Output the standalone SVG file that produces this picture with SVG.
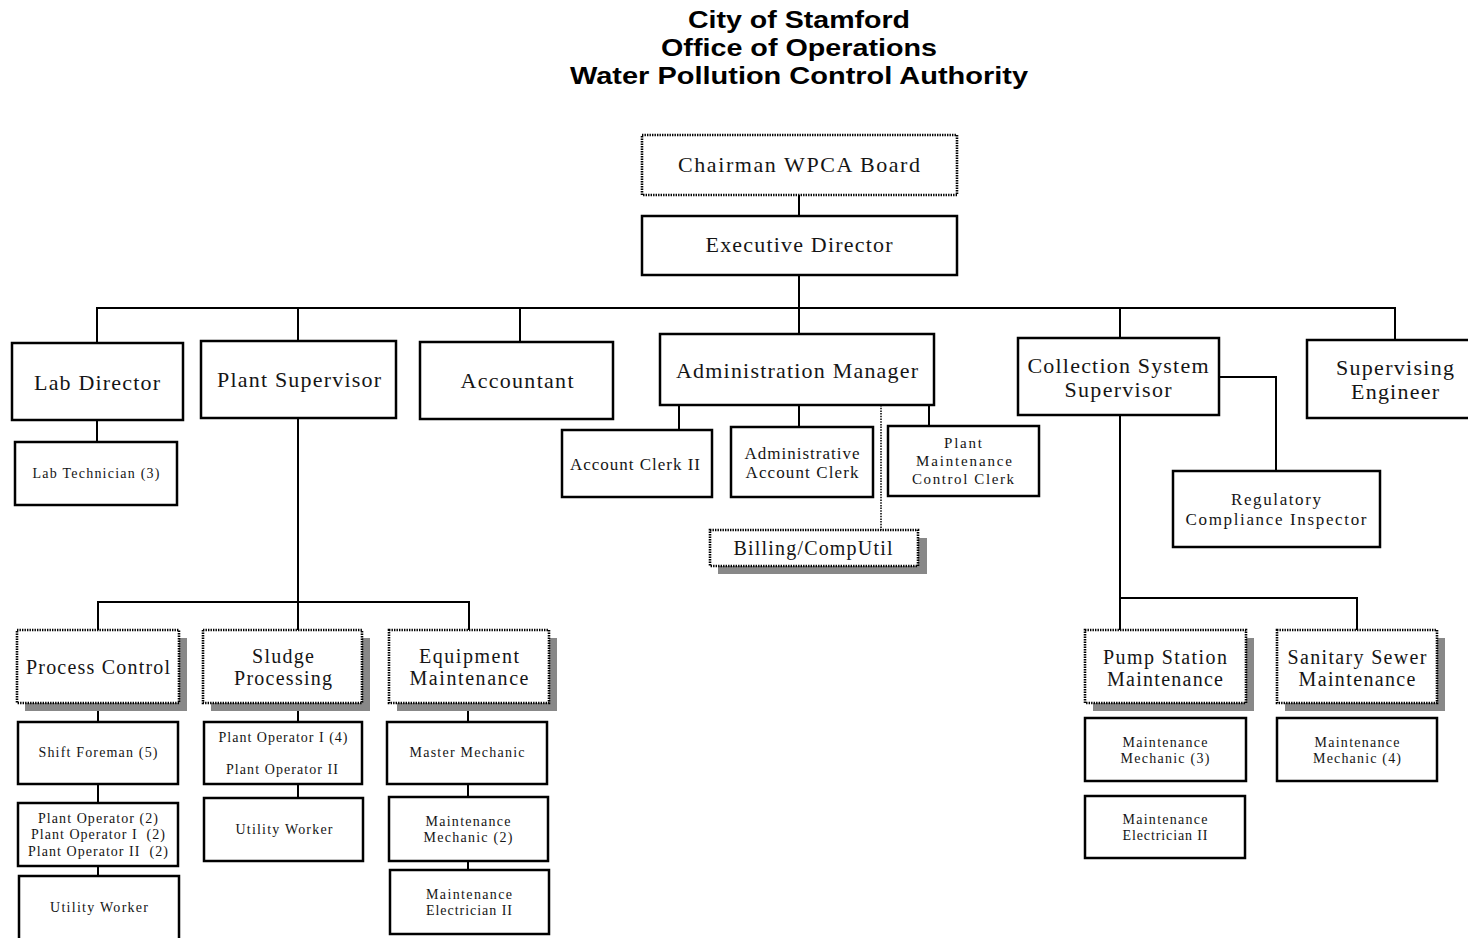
<svg xmlns="http://www.w3.org/2000/svg" width="1468" height="938" viewBox="0 0 1468 938">
<style>
.bg{fill:#fff}
.box{fill:#fff;stroke:#000;stroke-width:2.5}
.dot{fill:#fff;stroke:#000;stroke-width:2.6;stroke-dasharray:1.4 1.1}
.sh{fill:#888}
.t{font-family:"Liberation Serif","Times New Roman",serif;text-anchor:middle;fill:#151515}
.xl{font-size:22px}
.l{font-size:20px}
.m{font-size:17px}
.s{font-size:15px}
.xs{font-size:14px}
.title{font-family:"Liberation Sans",Arial,sans-serif;font-weight:bold;font-size:24px;text-anchor:middle;fill:#000}
.conn path{fill:none;stroke:#000;stroke-width:2}
.conn .dl{stroke-width:1.5;stroke-dasharray:1.5 1.2}
</style>
<rect class="bg" x="0" y="0" width="1468" height="938"/>
<g id="title">
<text class="title" x="799" y="28" textLength="222" lengthAdjust="spacingAndGlyphs">City of Stamford</text>
<text class="title" x="799" y="56" textLength="276" lengthAdjust="spacingAndGlyphs">Office of Operations</text>
<text class="title" x="799" y="84" textLength="458" lengthAdjust="spacingAndGlyphs">Water Pollution Control Authority</text>
</g>
<g class="conn" id="connectors">
<path d="M799 195V216"/>
<path d="M799 275V334"/>
<path d="M97 343V308H1395V340"/>
<path d="M298 308V341M520 308V342M1120 308V338"/>
<path d="M97 420V442"/>
<path d="M679 405V430M799 405V427M929 405V426"/>
<path class="dl" d="M881 405V530"/>
<path d="M1219 377H1276V471"/>
<path d="M1120 415V630M1120 598H1357V630"/>
<path d="M298 418V630M98 630V602H469V630"/>
<path d="M98 703V722M98 784V803M98 866V876"/>
<path d="M298 703V722M298 784V798"/>
<path d="M468 703V722M468 784V797M468 861V870"/>
</g>
<g id="chairman">
<rect class="dot" x="642" y="135" width="315" height="60"/>
<text class="t xl" x="799" y="172" textLength="242" lengthAdjust="spacing">Chairman WPCA Board</text>
</g>
<g id="executive-director">
<rect class="box" x="642" y="216" width="315" height="59"/>
<text class="t xl" x="799" y="252" textLength="187" lengthAdjust="spacing">Executive Director</text>
</g>
<g id="lab-director">
<rect class="box" x="12" y="343" width="171" height="77"/>
<text class="t xl" x="97" y="390" textLength="126" lengthAdjust="spacing">Lab Director</text>
</g>
<g id="lab-technician">
<rect class="box" x="15" y="442" width="162" height="63"/>
<text class="t xs" x="96" y="478" textLength="127" lengthAdjust="spacing">Lab Technician (3)</text>
</g>
<g id="plant-supervisor">
<rect class="box" x="201" y="341" width="195" height="77"/>
<text class="t xl" x="299" y="387" textLength="164" lengthAdjust="spacing">Plant Supervisor</text>
</g>
<g id="accountant">
<rect class="box" x="420" y="342" width="193" height="77"/>
<text class="t xl" x="517" y="388" textLength="113" lengthAdjust="spacing">Accountant</text>
</g>
<g id="administration-manager">
<rect class="box" x="660" y="334" width="274" height="71"/>
<text class="t xl" x="797" y="378" textLength="242" lengthAdjust="spacing">Administration Manager</text>
</g>
<g id="account-clerk-ii">
<rect class="box" x="562" y="430" width="150" height="67"/>
<text class="t m" x="635" y="470" textLength="130" lengthAdjust="spacing">Account Clerk II</text>
</g>
<g id="administrative-account-clerk">
<rect class="box" x="731" y="427" width="142" height="70"/>
<text class="t m" x="802" y="459" textLength="115" lengthAdjust="spacing">Administrative</text>
<text class="t m" x="802" y="478" textLength="113" lengthAdjust="spacing">Account Clerk</text>
</g>
<g id="plant-maintenance-control-clerk">
<rect class="box" x="888" y="426" width="151" height="70"/>
<text class="t s" x="963" y="448" textLength="38" lengthAdjust="spacing">Plant</text>
<text class="t s" x="964" y="466" textLength="96" lengthAdjust="spacing">Maintenance</text>
<text class="t s" x="963" y="484" textLength="102" lengthAdjust="spacing">Control Clerk</text>
</g>
<g id="billing-computil">
<rect class="sh" x="718" y="538" width="209" height="36"/>
<rect class="dot" x="710" y="530" width="208" height="36"/>
<text class="t l" x="813" y="555" textLength="159" lengthAdjust="spacing">Billing/CompUtil</text>
</g>
<g id="collection-system-supervisor">
<rect class="box" x="1018" y="338" width="201" height="77"/>
<text class="t xl" x="1118" y="373" textLength="181" lengthAdjust="spacing">Collection System</text>
<text class="t xl" x="1118" y="397" textLength="107" lengthAdjust="spacing">Supervisor</text>
</g>
<g id="supervising-engineer">
<rect class="box" x="1307" y="340" width="170" height="78"/>
<text class="t xl" x="1395" y="375" textLength="118" lengthAdjust="spacing">Supervising</text>
<text class="t xl" x="1395" y="399" textLength="88" lengthAdjust="spacing">Engineer</text>
</g>
<g id="regulatory-compliance-inspector">
<rect class="box" x="1173" y="471" width="207" height="76"/>
<text class="t m" x="1276" y="505" textLength="90" lengthAdjust="spacing">Regulatory</text>
<text class="t m" x="1276" y="525" textLength="181" lengthAdjust="spacing">Compliance Inspector</text>
</g>
<g id="process-control">
<rect class="sh" x="25" y="638" width="162" height="73"/>
<rect class="dot" x="17" y="630" width="162" height="73"/>
<text class="t l" x="98" y="674" textLength="144" lengthAdjust="spacing">Process Control</text>
</g>
<g id="sludge-processing">
<rect class="sh" x="211" y="638" width="159" height="73"/>
<rect class="dot" x="203" y="630" width="159" height="73"/>
<text class="t l" x="283" y="663" textLength="62" lengthAdjust="spacing">Sludge</text>
<text class="t l" x="283" y="685" textLength="98" lengthAdjust="spacing">Processing</text>
</g>
<g id="equipment-maintenance">
<rect class="sh" x="397" y="638" width="160" height="73"/>
<rect class="dot" x="389" y="630" width="160" height="73"/>
<text class="t l" x="469" y="663" textLength="100" lengthAdjust="spacing">Equipment</text>
<text class="t l" x="469" y="685" textLength="119" lengthAdjust="spacing">Maintenance</text>
</g>
<g id="shift-foreman">
<rect class="box" x="18" y="722" width="160" height="62"/>
<text class="t xs" x="98" y="757" textLength="119" lengthAdjust="spacing">Shift Foreman (5)</text>
</g>
<g id="plant-operators">
<rect class="box" x="18" y="803" width="160" height="63"/>
<text class="t xs" x="98" y="823" textLength="120" lengthAdjust="spacing">Plant Operator (2)</text>
<text class="t xs" x="98" y="839" textLength="134" lengthAdjust="spacing" xml:space="preserve">Plant Operator I  (2)</text>
<text class="t xs" x="98" y="856" textLength="140" lengthAdjust="spacing" xml:space="preserve">Plant Operator II  (2)</text>
</g>
<g id="utility-worker-pc">
<rect class="box" x="19" y="876" width="160" height="66"/>
<text class="t xs" x="99" y="912" textLength="98" lengthAdjust="spacing">Utility Worker</text>
</g>
<g id="plant-operator-sludge">
<rect class="box" x="204" y="722" width="158" height="62"/>
<text class="t xs" x="283" y="742" textLength="129" lengthAdjust="spacing">Plant Operator I (4)</text>
<text class="t xs" x="282" y="774" textLength="112" lengthAdjust="spacing">Plant Operator II</text>
</g>
<g id="utility-worker-sludge">
<rect class="box" x="204" y="798" width="159" height="63"/>
<text class="t xs" x="284" y="834" textLength="97" lengthAdjust="spacing">Utility Worker</text>
</g>
<g id="master-mechanic">
<rect class="box" x="387" y="722" width="160" height="62"/>
<text class="t xs" x="467" y="757" textLength="115" lengthAdjust="spacing">Master Mechanic</text>
</g>
<g id="maintenance-mechanic-2">
<rect class="box" x="389" y="797" width="159" height="64"/>
<text class="t xs" x="468" y="826" textLength="85" lengthAdjust="spacing">Maintenance</text>
<text class="t xs" x="468" y="842" textLength="89" lengthAdjust="spacing">Mechanic (2)</text>
</g>
<g id="maintenance-electrician-plant">
<rect class="box" x="390" y="870" width="159" height="64"/>
<text class="t xs" x="469" y="899" textLength="86" lengthAdjust="spacing">Maintenance</text>
<text class="t xs" x="469" y="915" textLength="86" lengthAdjust="spacing">Electrician II</text>
</g>
<g id="pump-station-maintenance">
<rect class="sh" x="1093" y="638" width="161" height="73"/>
<rect class="dot" x="1085" y="630" width="161" height="73"/>
<text class="t l" x="1165" y="664" textLength="124" lengthAdjust="spacing">Pump Station</text>
<text class="t l" x="1165" y="686" textLength="116" lengthAdjust="spacing">Maintenance</text>
</g>
<g id="sanitary-sewer-maintenance">
<rect class="sh" x="1285" y="638" width="160" height="73"/>
<rect class="dot" x="1277" y="630" width="160" height="73"/>
<text class="t l" x="1357" y="664" textLength="139" lengthAdjust="spacing">Sanitary Sewer</text>
<text class="t l" x="1357" y="686" textLength="117" lengthAdjust="spacing">Maintenance</text>
</g>
<g id="maintenance-mechanic-3">
<rect class="box" x="1085" y="718" width="161" height="63"/>
<text class="t xs" x="1165" y="747" textLength="85" lengthAdjust="spacing">Maintenance</text>
<text class="t xs" x="1165" y="763" textLength="89" lengthAdjust="spacing">Mechanic (3)</text>
</g>
<g id="maintenance-electrician-pump">
<rect class="box" x="1085" y="796" width="160" height="62"/>
<text class="t xs" x="1165" y="824" textLength="85" lengthAdjust="spacing">Maintenance</text>
<text class="t xs" x="1165" y="840" textLength="85" lengthAdjust="spacing">Electrician II</text>
</g>
<g id="maintenance-mechanic-4">
<rect class="box" x="1277" y="718" width="160" height="63"/>
<text class="t xs" x="1357" y="747" textLength="85" lengthAdjust="spacing">Maintenance</text>
<text class="t xs" x="1357" y="763" textLength="88" lengthAdjust="spacing">Mechanic (4)</text>
</g>
</svg>
